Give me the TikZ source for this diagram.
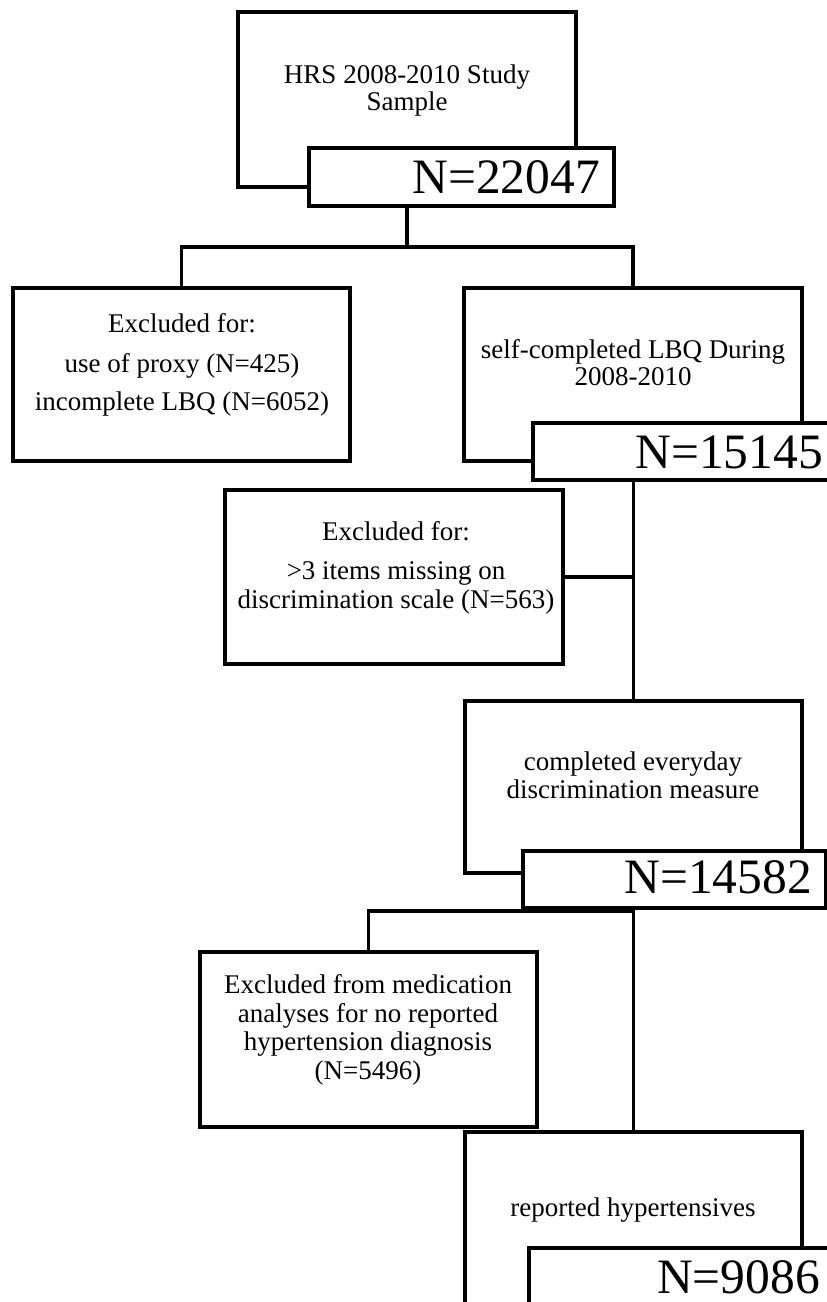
\documentclass[tikz,border=0pt]{standalone}
\usepackage{fontspec}
\setmainfont{Liberation Serif}
\begin{document}
\begin{tikzpicture}[x=1pt,y=-1pt,
  box/.style={draw, line width=3.1pt, fill=white, rectangle, inner sep=0pt, outer sep=0pt, anchor=north west},
  txt/.style={font=\fontsize{27}{27}\selectfont, inner sep=0pt, anchor=base},
  num/.style={font=\fontsize{49.5}{50}\selectfont, inner sep=0pt, anchor=base east},
  conn/.style={line width=3.1pt}]
\useasboundingbox (0,0) rectangle (827,1302);
\clip (0,0) rectangle (827,1302);

% boxes
\node[box, minimum width=338pt, minimum height=175pt] (hrs) at (238,12) {};
\node[box, minimum width=305pt, minimum height=58pt] (n1) at (309,148) {};
\node[box, minimum width=337pt, minimum height=173pt] (ex1) at (13,288) {};
\node[box, minimum width=338pt, minimum height=173pt] (sc) at (464,288) {};
\node[box, minimum width=300pt, minimum height=57pt] (n2) at (533,423) {};
\node[box, minimum width=338pt, minimum height=174pt] (ex2) at (225,490) {};
\node[box, minimum width=337pt, minimum height=172pt] (cd) at (465,701) {};
\node[box, minimum width=303pt, minimum height=57pt] (n3) at (523,851) {};
\node[box, minimum width=337pt, minimum height=175pt] (med) at (200,952) {};
\node[box, minimum width=337pt, minimum height=200pt] (rh) at (465,1132) {};
\node[box, minimum width=300pt, minimum height=80pt] (n4) at (529,1248) {};

% connectors
\coordinate (j1) at (407,247);
\draw[conn] (n1.south -| j1) -- (j1);
\draw[conn] (ex1.north) |- (j1) -| (sc.north);
\draw[conn] (n2.south -| cd.north) -- (cd.north);
\draw[conn] (ex2.east) -- (ex2.east -| cd.north);
\coordinate (j3) at (633,911);
\draw[conn] (n3.south -| rh.north) -- (rh.north);
\draw[conn] (j3) -| (med.north);

% texts
\node[txt] (t1) at (407,83) {HRS 2008-2010 Study};
\node[txt] (t2) at (407,110) {Sample};
\node[num] (v1) at (600,193) {N=22047};

\node[txt] (t3) at (182,332) {Excluded for:};
\node[txt] (t4) at (182,372) {use of proxy (N=425)};
\node[txt] (t5) at (182,410) {incomplete LBQ (N=6052)};

\node[txt] (t6) at (633,358) {self-completed LBQ During};
\node[txt] (t7) at (633,385) {2008-2010};
\node[num] (v2) at (823,468) {N=15145};

\node[txt] (t8) at (396,540) {Excluded for:};
\node[txt] (t9) at (396,579) {>3 items missing on};
\node[txt] (t10) at (396,608) {discrimination scale (N=563)};

\node[txt] (t11) at (633,770) {completed everyday};
\node[txt] (t12) at (633,798) {discrimination measure};
\node[num] (v3) at (812,893) {N=14582};

\node[txt] (t13) at (368,993) {Excluded from medication};
\node[txt] (t14) at (368,1022) {analyses for no reported};
\node[txt] (t15) at (368,1050) {hypertension diagnosis};
\node[txt] (t16) at (368,1079) {(N=5496)};

\node[txt] (t17) at (633,1216) {reported hypertensives};
\node[num] (v4) at (820,1293) {N=9086};
\end{tikzpicture}
\end{document}
